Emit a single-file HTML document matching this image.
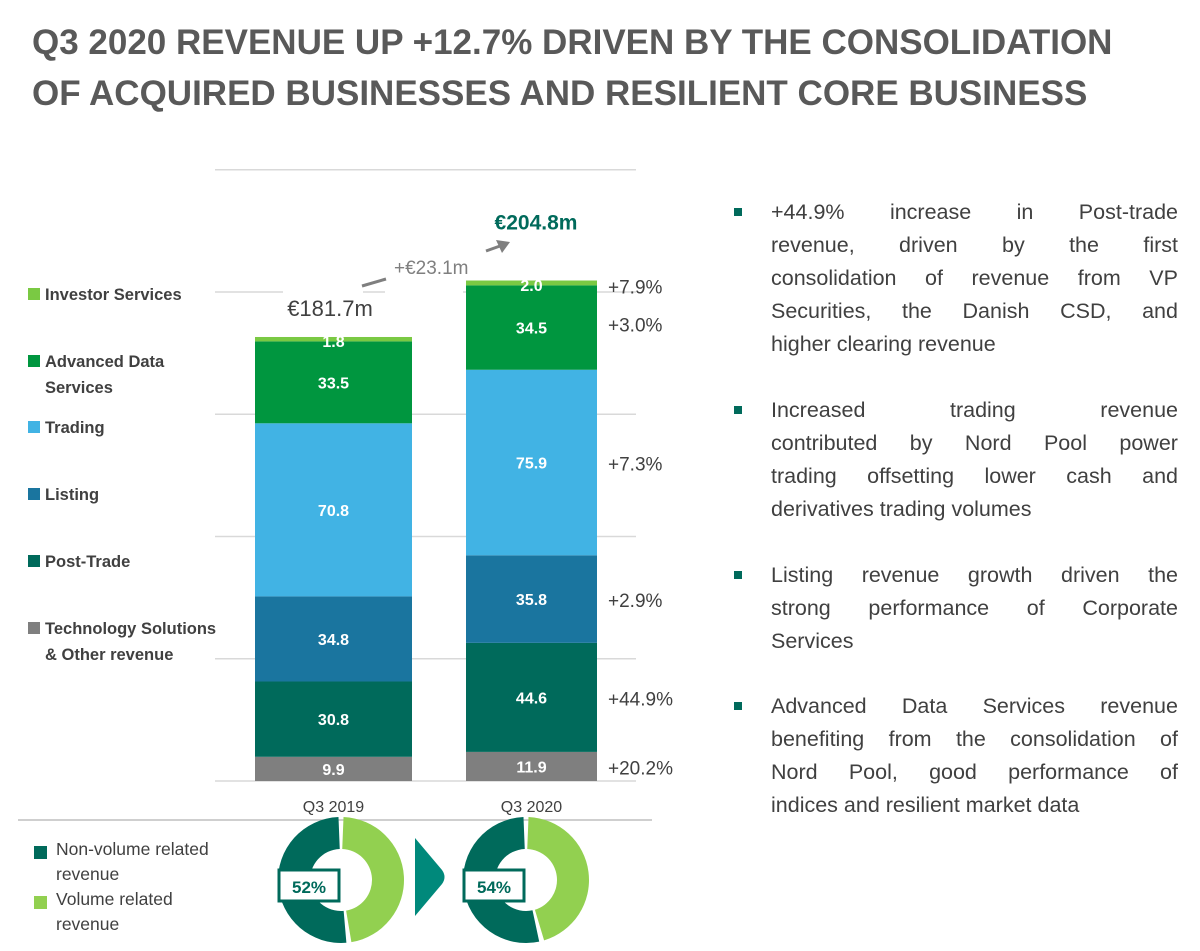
<!DOCTYPE html>
<html><head><meta charset="utf-8">
<style>
body{margin:0;width:1200px;height:951px;background:#fff;font-family:"Liberation Sans",sans-serif;position:relative;overflow:hidden;color:#595959}
.title{position:absolute;left:32px;top:17px;font-size:35px;font-weight:bold;line-height:51px;color:#595959;letter-spacing:0}
.bul{position:absolute;left:771px;width:407px;font-size:21.5px;line-height:33px;color:#404040}
.bul .l{text-align:justify;text-align-last:justify;white-space:nowrap;display:flex;justify-content:space-between}
.bul .last{justify-content:flex-start;gap:6px}
.sq{position:absolute;left:-37px;top:12px;width:8px;height:8px;background:#006a5b}
</style></head><body>
<div class="title">Q3 2020 REVENUE UP +12.7% DRIVEN BY THE CONSOLIDATION<br>OF ACQUIRED BUSINESSES AND RESILIENT CORE BUSINESS</div>

<svg id="chart" width="1200" height="951" style="position:absolute;left:0;top:0"></svg>

<div class="bul" style="top:196px"><div class="sq"></div>
<div class="l"><span>+44.9%</span><span>increase</span><span>in</span><span>Post-trade</span></div>
<div class="l"><span>revenue,</span><span>driven</span><span>by</span><span>the</span><span>first</span></div>
<div class="l"><span>consolidation</span><span>of</span><span>revenue</span><span>from</span><span>VP</span></div>
<div class="l"><span>Securities,</span><span>the</span><span>Danish</span><span>CSD,</span><span>and</span></div>
<div class="l last"><span>higher clearing revenue</span></div></div>
<div class="bul" style="top:394px"><div class="sq"></div>
<div class="l"><span>Increased</span><span>trading</span><span>revenue</span></div>
<div class="l"><span>contributed</span><span>by</span><span>Nord</span><span>Pool</span><span>power</span></div>
<div class="l"><span>trading</span><span>offsetting</span><span>lower</span><span>cash</span><span>and</span></div>
<div class="l last"><span>derivatives trading volumes</span></div></div>
<div class="bul" style="top:559px"><div class="sq"></div>
<div class="l"><span>Listing</span><span>revenue</span><span>growth</span><span>driven</span><span>the</span></div>
<div class="l"><span>strong</span><span>performance</span><span>of</span><span>Corporate</span></div>
<div class="l last"><span>Services</span></div></div>
<div class="bul" style="top:690px"><div class="sq"></div>
<div class="l"><span>Advanced</span><span>Data</span><span>Services</span><span>revenue</span></div>
<div class="l"><span>benefiting</span><span>from</span><span>the</span><span>consolidation</span><span>of</span></div>
<div class="l"><span>Nord</span><span>Pool,</span><span>good</span><span>performance</span><span>of</span></div>
<div class="l last"><span>indices and resilient market data</span></div></div>

<script>
const categories=["Q3 2019","Q3 2020"];
const segments=["Technology Solutions & Other revenue","Post-Trade","Listing","Trading","Advanced Data Services","Investor Services"];
const q3_2019=[9.9,30.8,34.8,70.8,33.5,1.8];
const q3_2020=[11.9,44.6,35.8,75.9,34.5,2.0];
const growth=["+20.2%","+44.9%","+2.9%","+7.3%","+3.0%","+7.9%"];
const totals=["€181.7m","€204.8m"];
const yTicks=[0,50,100,150,200,250];
const volumeShare=[52,54];
const colors=["#7f7f7f","#006a5b","#1a759f","#41b3e4","#00963f","#7ac943"];
const NS="http://www.w3.org/2000/svg";
const svg=document.getElementById('chart');
function mk(t,a,p){const e=document.createElementNS(NS,t);for(const k in a)e.setAttribute(k,a[k]);(p||svg).appendChild(e);return e;}
const y0=781,k=2.445;
const yS=v=>y0-v*k;
const bx=[255,466],bw=[157,131];
yTicks.forEach(t=>{const l=mk('line',{x1:215,x2:636,y1:yS(t),y2:yS(t),stroke:'#d9d9d9','stroke-width':1.5});
});
// gaps in gridline behind labels
mk('rect',{x:283,y:285,width:80,height:12,fill:'#fff'});
mk('rect',{x:385,y:285,width:78,height:12,fill:'#fff'});
[q3_2019,q3_2020].forEach((vals,i)=>{let acc=0;
vals.forEach((v,j)=>{const top=yS(acc+v),bot=yS(acc);
const r=mk('rect',{x:bx[i],y:top,width:bw[i],height:bot-top,fill:colors[j]});

const ty=j==5?(top+bot)/2+8:(top+bot)/2+6;
const t=mk('text',{x:bx[i]+bw[i]/2,y:ty,'text-anchor':'middle','font-size':16,'font-weight':'bold',fill:'#fff'});t.textContent=v.toFixed(1);

if(i==1){const g=mk('text',{x:608,y:j==5?top+13:(j==4?top+46:(top+bot)/2+8),'font-size':19,fill:'#404040'});g.textContent=growth[j];
}
acc+=v;});
const c=mk('text',{x:bx[i]+bw[i]/2,y:812,'text-anchor':'middle','font-size':16,fill:'#404040'});c.textContent=categories[i];

});
mk('line',{x1:18,x2:652,y1:820,y2:820,stroke:'#bfbfbf','stroke-width':1.5});
const s1=q3_2019.reduce((a,b)=>a+b,0),s2=q3_2020.reduce((a,b)=>a+b,0);
let t1=mk('text',{x:330,y:yS(s1)-21,'text-anchor':'middle','font-size':22,fill:'#404040'});t1.textContent=totals[0];

let t2=mk('text',{x:536,y:yS(s2)-51,'text-anchor':'middle','font-size':21,'font-weight':'bold',fill:'#006a5b'});t2.textContent=totals[1];

mk('line',{x1:362,y1:286,x2:386,y2:279,stroke:'#7f7f7f','stroke-width':3});
let d=mk('text',{x:394,y:274,'font-size':19,fill:'#7f7f7f'});d.textContent="+€23.1m";

mk('line',{x1:486,y1:251,x2:500,y2:246,stroke:'#7f7f7f','stroke-width':3});
mk('polygon',{points:'496,240 510,242 502,253',fill:'#7f7f7f'});
const leg=[["Investor Services"],["Advanced Data","Services"],["Trading"],["Listing"],["Post-Trade"],["Technology Solutions","& Other revenue"]];
const legY=[300,367,433,500,567,634];
leg.forEach((L,i)=>{const ci=5-i;const g=mk('g',{});

mk('rect',{x:28,y:legY[i]-12,width:12,height:12,fill:colors[ci]},g);
L.forEach((s,m)=>{const t=mk('text',{x:45,y:legY[i]+m*26,'font-size':16.5,'font-weight':'bold',fill:'#404040'},g);t.textContent=s;});});
[["#006a5b",["Non-volume related","revenue"],855],["#92d050",["Volume related","revenue"],905]].forEach(a=>{
const g=mk('g',{});
mk('rect',{x:34,y:a[2]-9,width:13,height:13,fill:a[0]},g);
a[1].forEach((s,m)=>{const t=mk('text',{x:56,y:a[2]+m*25,'font-size':17.5,fill:'#404040'},g);t.textContent=s;});});
const dc=[[341,880],[526,880]];
function arc(cx,cy,R,r,a0,a1){const p=(a,rr)=>[cx+rr*Math.sin(a),cy-rr*Math.cos(a)];
const large=(a1-a0)>Math.PI?1:0;const [x1,y1]=p(a0,R),[x2,y2]=p(a1,R),[x3,y3]=p(a1,r),[x4,y4]=p(a0,r);
return `M${x1},${y1}A${R},${R} 0 ${large} 1 ${x2},${y2}L${x3},${y3}A${r},${r} 0 ${large} 0 ${x4},${y4}Z`;}
volumeShare.forEach((v,i)=>{const [cx,cy]=dc[i];const split=2*Math.PI*(1-v/100);const gap=0.04;
const a=mk('path',{d:arc(cx,cy,63,31,split+gap,2*Math.PI-gap),fill:'#006a5b'});

const b=mk('path',{d:arc(cx,cy,63,31,gap,split-gap),fill:'#92d050'});

mk('rect',{x:cx-62,y:cy-10,width:60,height:31,fill:'#fff',stroke:'#006a5b','stroke-width':3});
const t=mk('text',{x:cx-32,y:cy+13,'text-anchor':'middle','font-size':17,'font-weight':'bold',fill:'#006a5b'});t.textContent=v+"%";
});
const ar=mk('path',{d:'M415,838 L442,870 Q447,877 442,884 L415,916 Z',fill:'#00897b'});

</script>
</body></html>
